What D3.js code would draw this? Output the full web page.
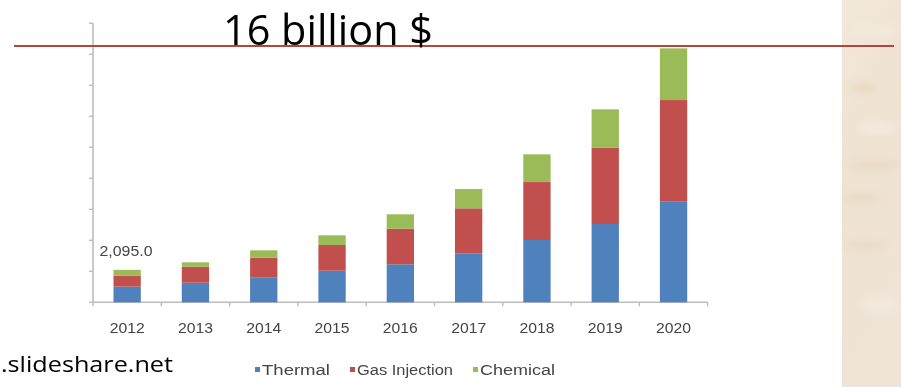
<!DOCTYPE html>
<html>
<head>
<meta charset="utf-8">
<script src="https://cdn.jsdelivr.net/npm/d3@7"></script>
<style>
  html, body { margin: 0; padding: 0; background: #fff; }
  svg { display: block; }
</style>
</head>
<body>
<svg id="chart" width="901" height="387"></svg>
<script>
// Market size by recovery technique, 2012–2020 (USD million)
const years = ["2012", "2013", "2014", "2015", "2016", "2017", "2018", "2019", "2020"];
const thermal      = [1010, 1264, 1587, 2038, 2451, 3160, 4018, 5050, 6489];
const gasInjection = [715, 1032, 1290, 1658, 2296, 2903, 3741, 4921, 6560];
const chemical     = [370, 284, 477, 626, 929, 1245, 1787, 2477, 3335];
const seriesNames  = ["Thermal", "Gas Injection", "Chemical"];
const seriesColors = ["#4f81bd", "#c0504d", "#9bbb59"];
const yTicks = [0, 2000, 4000, 6000, 8000, 10000, 12000, 14000, 16000, 18000];
const firstLabel = "2,095.0";
const headline = "16 billion $";
const sourceText = ".slideshare.net";

const svg = d3.select("#chart");
const defs = svg.append("defs");

// soft focus for the embedded chart graphic
defs.append("filter").attr("id", "soft")
  .attr("x", "-5%").attr("y", "-5%").attr("width", "110%").attr("height", "110%")
  .append("feGaussianBlur").attr("stdDeviation", 0.7);

// parchment strip on the right edge
const paper = defs.append("linearGradient").attr("id", "paper")
  .attr("x1", 0).attr("y1", 0).attr("x2", 0.3).attr("y2", 1);
paper.append("stop").attr("offset", 0).attr("stop-color", "#f2e8da");
paper.append("stop").attr("offset", 0.5).attr("stop-color", "#eee2d1");
paper.append("stop").attr("offset", 1).attr("stop-color", "#efe4d6");
defs.append("filter").attr("id", "streak")
  .attr("x", "-50%").attr("y", "-200%").attr("width", "200%").attr("height", "500%")
  .append("feGaussianBlur").attr("stdDeviation", 4);
defs.append("clipPath").attr("id", "paperClip")
  .append("rect").attr("x", 842).attr("y", 0).attr("width", 59).attr("height", 387);

svg.append("rect").attr("x", 842).attr("y", 0).attr("width", 59).attr("height", 387)
  .attr("fill", "url(#paper)");
const streaks = svg.append("g").attr("clip-path", "url(#paperClip)")
  .append("g").attr("filter", "url(#streak)");
const streakData = [
  {x: 850, y: 30, w: 50, h: 8, c: "#f6efe4"},
  {x: 848, y: 88, w: 30, h: 9, c: "#e5d3b9"},
  {x: 846, y: 165, w: 55, h: 8, c: "#e7d6be"},
  {x: 842, y: 198, w: 40, h: 6, c: "#e4d1b7"},
  {x: 858, y: 128, w: 40, h: 12, c: "#f5ece0"},
  {x: 844, y: 245, w: 45, h: 9, c: "#e7d7c1"},
  {x: 860, y: 305, w: 40, h: 14, c: "#f4ebe0"}
];
streaks.selectAll("ellipse").data(streakData).join("ellipse")
  .attr("cx", d => d.x + d.w / 2).attr("cy", d => d.y)
  .attr("rx", d => d.w / 2).attr("ry", d => d.h / 2)
  .attr("fill", d => d.c).attr("opacity", 0.75);

// ---- chart ----
const baseY = 302.3, topY = 23.3, left = 93, right = 707.7;
const x = d3.scaleBand().domain(years).range([left, right])
  .paddingInner(0.6).paddingOuter(0.3);
const y = d3.scaleLinear().domain([0, 18000]).range([baseY, topY]);

const rows = years.map((yr, i) => ({
  year: yr, Thermal: thermal[i], "Gas Injection": gasInjection[i], Chemical: chemical[i]
}));
const stacked = d3.stack().keys(seriesNames)(rows);

const chart = svg.append("g").attr("filter", "url(#soft)");

// y axis line and ticks
const axisColor = "#bdbdbd";
chart.append("line").attr("x1", left).attr("x2", left).attr("y1", y(18000)).attr("y2", baseY)
  .attr("stroke", axisColor).attr("stroke-width", 1.6);
chart.selectAll(".ytick").data(yTicks).join("line").attr("class", "ytick")
  .attr("x1", left - 4).attr("x2", left).attr("y1", d => y(d)).attr("y2", d => y(d))
  .attr("stroke", axisColor).attr("stroke-width", 1.4);

// x axis line and category separators
chart.append("line").attr("x1", left).attr("x2", right).attr("y1", baseY).attr("y2", baseY)
  .attr("stroke", axisColor).attr("stroke-width", 1.6);
const gap = (x.step() - x.bandwidth()) / 2;
const sepX = years.map(yr => x(yr) - gap).concat([x(years[years.length - 1]) + x.bandwidth() + gap]);
chart.selectAll(".xtick").data(sepX).join("line").attr("class", "xtick")
  .attr("x1", d => d).attr("x2", d => d).attr("y1", baseY).attr("y2", baseY + 4)
  .attr("stroke", axisColor).attr("stroke-width", 1.4);

// stacked bars
chart.selectAll(".series").data(stacked).join("g").attr("class", "series")
  .attr("fill", (d, i) => seriesColors[i])
  .selectAll("rect").data(d => d).join("rect")
  .attr("x", d => x(d.data.year))
  .attr("width", x.bandwidth())
  .attr("y", d => y(d[1]))
  .attr("height", d => y(d[0]) - y(d[1]));

// year labels
const labelFont = "Liberation Sans, Arial, sans-serif";
chart.selectAll(".year").data(years).join("text").attr("class", "year")
  .attr("x", d => x(d) + x.bandwidth() / 2).attr("y", 333)
  .attr("text-anchor", "middle")
  .attr("font-family", labelFont).attr("font-size", 15)
  .attr("textLength", 35).attr("lengthAdjust", "spacingAndGlyphs")
  .attr("fill", "#444").text(d => d);

// value label for the first year
const firstTotal = thermal[0] + gasInjection[0] + chemical[0];
chart.append("text")
  .attr("x", x(years[0]) - 14).attr("y", y(firstTotal) - 14)
  .attr("font-family", labelFont).attr("font-size", 15)
  .attr("textLength", 53).attr("lengthAdjust", "spacingAndGlyphs")
  .attr("fill", "#444").text(firstLabel);

// legend
const legendX = [255, 350, 473];
const legendW = [75, 103, 82];
const legend = chart.selectAll(".leg").data(seriesNames).join("g").attr("class", "leg")
  .attr("transform", (d, i) => `translate(${legendX[i]},0)`);
legend.append("rect").attr("x", 0).attr("y", 367).attr("width", 5).attr("height", 5)
  .attr("fill", (d, i) => seriesColors[i]);
legend.append("text").attr("x", 7).attr("y", 375)
  .attr("font-family", labelFont).attr("font-size", 14)
  .attr("textLength", (d, i) => legendW[i] - 7).attr("lengthAdjust", "spacingAndGlyphs")
  .attr("fill", "#444").text(d => d);

// ---- slide overlay ----
svg.append("line").attr("x1", 14).attr("x2", 894).attr("y1", 46).attr("y2", 46)
  .attr("stroke", "#b4443e").attr("stroke-width", 2.2);

svg.append("text").attr("x", 223).attr("y", 45)
  .attr("font-family", "Open Sans, Noto Sans, sans-serif").attr("font-size", 42)
  .attr("textLength", 210).attr("lengthAdjust", "spacingAndGlyphs")
  .attr("fill", "#000").text(headline);

svg.append("text").attr("x", 1).attr("y", 372)
  .attr("font-family", "Open Sans, Noto Sans, sans-serif").attr("font-size", 22)
  .attr("textLength", 172).attr("lengthAdjust", "spacingAndGlyphs")
  .attr("fill", "#000").text(sourceText);
</script>
</body>
</html>
